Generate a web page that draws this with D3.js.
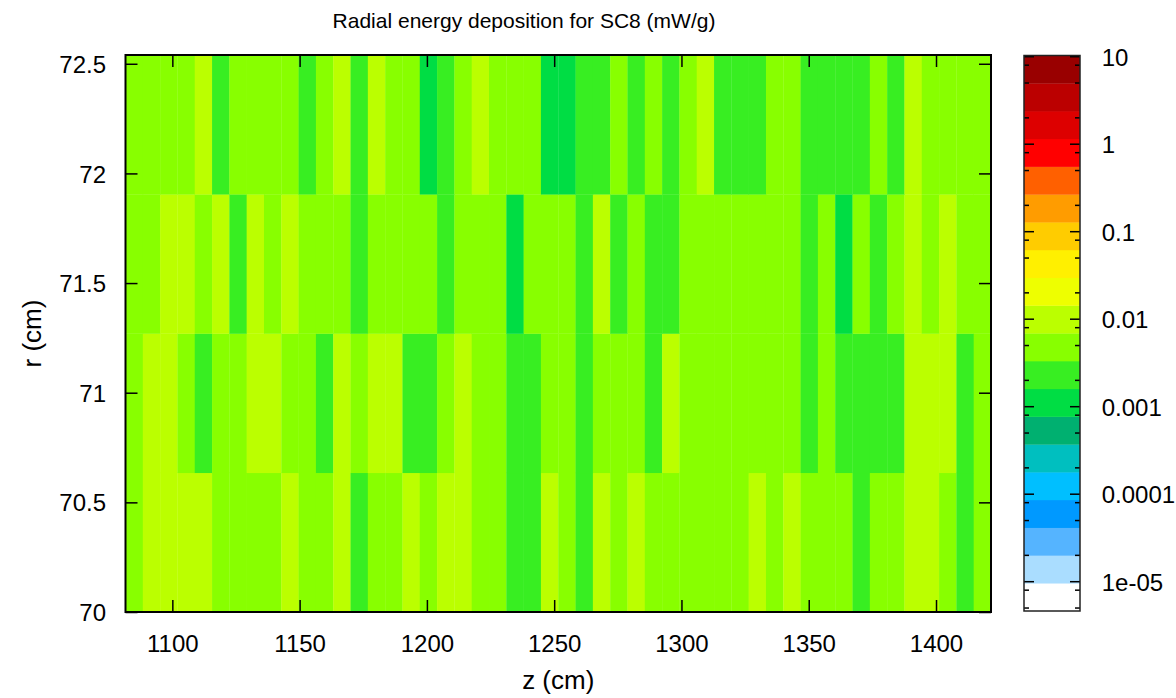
<!DOCTYPE html>
<html><head><meta charset="utf-8">
<script src="https://cdn.jsdelivr.net/npm/d3@7"></script>
<style>
body{margin:0;background:#fff}
text{font-family:"Liberation Sans",Arial,Helvetica,sans-serif;fill:#000}
</style>
</head><body>
<svg id="chart" width="1176" height="698"></svg>
<script>
// ---------- data ----------
const zCenters = [1085.0,1091.8,1098.6,1105.4,1112.2,1119.0,1125.8,1132.6,1139.4,1146.2,
  1153.0,1159.8,1166.6,1173.4,1180.2,1187.0,1193.8,1200.6,1207.4,1214.2,
  1221.0,1227.8,1234.6,1241.4,1248.2,1255.0,1261.8,1268.6,1275.4,1282.2,
  1289.0,1295.8,1302.6,1309.4,1316.2,1323.0,1329.8,1336.6,1343.4,1350.2,
  1357.0,1363.8,1370.6,1377.4,1384.2,1391.0,1397.8,1404.6,1411.4,1418.2];
const zBinWidth = 6.8;
const rCenters = [70.3175, 70.9525, 71.5875, 72.2225];
const rBinWidth = 0.635;

// energy deposition (mW/g), one array per radial row (bottom to top)
const row_r70_3 = [0.0049,0.0088,0.0094,0.0091,0.0083,0.0052,0.0047,0.0055,0.0050,0.0079,
  0.0046,0.0051,0.0085,0.0026,0.0048,0.0053,0.0077,0.0045,0.0082,0.0090,
  0.0057,0.0049,0.0025,0.0028,0.0078,0.0044,0.0024,0.0076,0.0050,0.0081,
  0.0054,0.0059,0.0056,0.0052,0.0048,0.0055,0.0080,0.0047,0.0084,0.0053,
  0.0058,0.0051,0.0027,0.0049,0.0054,0.0087,0.0092,0.0046,0.0026,0.0050];
const row_r71_0 = [0.0051,0.0086,0.0079,0.0047,0.0024,0.0053,0.0049,0.0083,0.0089,0.0055,
  0.0048,0.0025,0.0081,0.0046,0.0084,0.0078,0.0027,0.0023,0.0052,0.0077,
  0.0056,0.0050,0.0026,0.0022,0.0045,0.0049,0.0024,0.0054,0.0058,0.0051,
  0.0028,0.0076,0.0057,0.0053,0.0060,0.0055,0.0052,0.0049,0.0056,0.0027,
  0.0047,0.0025,0.0023,0.0026,0.0024,0.0082,0.0088,0.0080,0.0025,0.0048];
const row_r71_6 = [0.0050,0.0046,0.0082,0.0087,0.0053,0.0079,0.0025,0.0085,0.0048,0.0080,
  0.0052,0.0055,0.0049,0.0026,0.0051,0.0047,0.0054,0.0050,0.0024,0.0053,
  0.0058,0.0049,0.0012,0.0046,0.0052,0.0048,0.0023,0.0077,0.0026,0.0051,
  0.0027,0.0024,0.0057,0.0054,0.0056,0.0059,0.0053,0.0050,0.0055,0.0025,
  0.0047,0.0011,0.0049,0.0026,0.0052,0.0083,0.0048,0.0078,0.0054,0.0051];
const row_r72_2 = [0.0048,0.0052,0.0055,0.0050,0.0081,0.0024,0.0053,0.0049,0.0046,0.0051,
  0.0025,0.0054,0.0078,0.0026,0.0084,0.0050,0.0047,0.0012,0.0023,0.0052,
  0.0080,0.0056,0.0049,0.0045,0.0011,0.0013,0.0024,0.0027,0.0051,0.0025,
  0.0048,0.0026,0.0053,0.0077,0.0023,0.0025,0.0028,0.0050,0.0047,0.0026,
  0.0024,0.0022,0.0025,0.0049,0.0027,0.0086,0.0055,0.0052,0.0048,0.0053];
const rows = [row_r70_3, row_r71_0, row_r71_6, row_r72_2];

const xTicks = [1100,1150,1200,1250,1300,1350,1400];
const yTicks = [70,70.5,71,71.5,72,72.5];
const cbTicks = [1e-5,1e-4,1e-3,1e-2,1e-1,1,10];
const cbTickLabels = ["1e-05","0.0001","0.001","0.01","0.1","1","10"];
const cbMinorMultipliers = [2,5,8];
const paletteColors = ["#ffffff","#aaddff","#55b4ff","#0099ff","#00bfff","#00bfbf","#00b070","#00dd44","#38ee22","#88ff00",
  "#bbff00","#eeff00","#fff000","#ffcc00","#ff9c00","#ff6000","#ff0000","#dd0000","#bb0000","#990000"];

// ---------- layout ----------
const svg = d3.select("#chart");
const L = 125.5, R = 991, T = 55, B = 612;
const x = d3.scaleLinear().domain([1081.6, 1421.6]).range([L, R]);
const y = d3.scaleLinear().domain([70, 72.54]).range([B, T]);

const cbX0 = 1024, cbX1 = 1080, cbTop = 55.5, cbBot = 611;
const cb = d3.scaleLog().domain([1e-5, 10]).range([581.7, 56.7]);
const logLo = Math.log10(cb.invert(cbBot)), logHi = Math.log10(cb.invert(cbTop));
const color = d3.scaleQuantize().domain([logLo, logHi]).range(paletteColors);

// ---------- cells ----------
const cells = [];
rows.forEach((vals, ri) => vals.forEach((v, zi) => cells.push({z: zCenters[zi], r: rCenters[ri], v})));
svg.append("g").selectAll("rect").data(cells).join("rect")
  .attr("x", d => x(d.z - zBinWidth/2))
  .attr("width", d => x(d.z + zBinWidth/2) - x(d.z - zBinWidth/2) + 0.3)
  .attr("y", d => y(d.r + rBinWidth/2))
  .attr("height", d => y(d.r - rBinWidth/2) - y(d.r + rBinWidth/2) + 0.3)
  .attr("fill", d => color(Math.log10(d.v)));

// ---------- axes ----------
const fs = 24;
function styleAxis(g){ g.select(".domain").remove(); g.selectAll("line").attr("stroke","#000").attr("stroke-width",1.5);
  g.selectAll("text").attr("font-size",fs).attr("font-family",'"Liberation Sans",Arial,sans-serif').attr("fill","#000"); }
svg.append("g").attr("transform",`translate(0,${B})`)
  .call(d3.axisBottom(x).tickValues(xTicks).tickSize(-12).tickPadding(23).tickFormat(d3.format("d"))).call(styleAxis);
svg.append("g").attr("transform",`translate(0,${T})`)
  .call(d3.axisTop(x).tickValues(xTicks).tickSize(-12).tickFormat("")).call(styleAxis);
const yAx = svg.append("g").attr("transform",`translate(${L},0)`)
  .call(d3.axisLeft(y).tickValues(yTicks).tickSize(-12).tickPadding(19.5).tickFormat(d => String(d))).call(styleAxis);
yAx.selectAll("text").attr("dy","0.36em");
svg.append("g").attr("transform",`translate(${R},0)`)
  .call(d3.axisRight(y).tickValues(yTicks).tickSize(-12).tickFormat("")).call(styleAxis);

svg.append("rect").attr("x",L).attr("y",T).attr("width",R-L).attr("height",B-T)
  .attr("fill","none").attr("stroke","#000").attr("stroke-width",2);

// ---------- colorbar ----------
const bands = paletteColors.map(c => { const e = color.invertExtent(c); return {c, lo: e[0], hi: e[1]}; });
svg.append("g").selectAll("rect").data(bands).join("rect")
  .attr("x", cbX0).attr("width", cbX1 - cbX0)
  .attr("y", d => cb(Math.pow(10, d.hi)))
  .attr("height", d => cb(Math.pow(10, d.lo)) - cb(Math.pow(10, d.hi)) + 0.3)
  .attr("fill", d => d.c);

const minor = [];
for (let k = -6; k <= 0; k++) cbMinorMultipliers.forEach(m => { const v = m * Math.pow(10,k); const py = cb(v); if (py > cbTop && py < cbBot) minor.push(v); });
const cbTickG = svg.append("g").attr("stroke","#000").attr("stroke-width",1.5);
cbTicks.forEach(v => { const py = cb(v);
  cbTickG.append("line").attr("x1",cbX0).attr("x2",cbX0+10).attr("y1",py).attr("y2",py);
  cbTickG.append("line").attr("x1",cbX1-10).attr("x2",cbX1).attr("y1",py).attr("y2",py); });
minor.forEach(v => { const py = cb(v);
  cbTickG.append("line").attr("x1",cbX0).attr("x2",cbX0+5).attr("y1",py).attr("y2",py);
  cbTickG.append("line").attr("x1",cbX1-5).attr("x2",cbX1).attr("y1",py).attr("y2",py); });
svg.append("rect").attr("x",cbX0).attr("y",cbTop).attr("width",cbX1-cbX0).attr("height",cbBot-cbTop)
  .attr("fill","none").attr("stroke","#222").attr("stroke-width",1.5);
const cbAx = svg.append("g").attr("transform",`translate(${cbX1},0)`)
  .call(d3.axisRight(cb).tickValues(cbTicks).tickSize(0).tickPadding(21.7).tickFormat((d,i) => cbTickLabels[i])).call(styleAxis);
cbAx.selectAll("text").attr("dy","0.36em");

// ---------- titles ----------
svg.append("text").attr("x",524).attr("y",28).attr("text-anchor","middle").attr("font-size",21)
  .text("Radial energy deposition for SC8 (mW/g)");
svg.append("text").attr("x",(L+R)/2).attr("y",689).attr("text-anchor","middle").attr("font-size",26).text("z (cm)");
svg.append("text").attr("transform",`translate(41,${(T+B)/2}) rotate(-90)`).attr("text-anchor","middle").attr("font-size",26).text("r (cm)");
</script>
</body></html>
